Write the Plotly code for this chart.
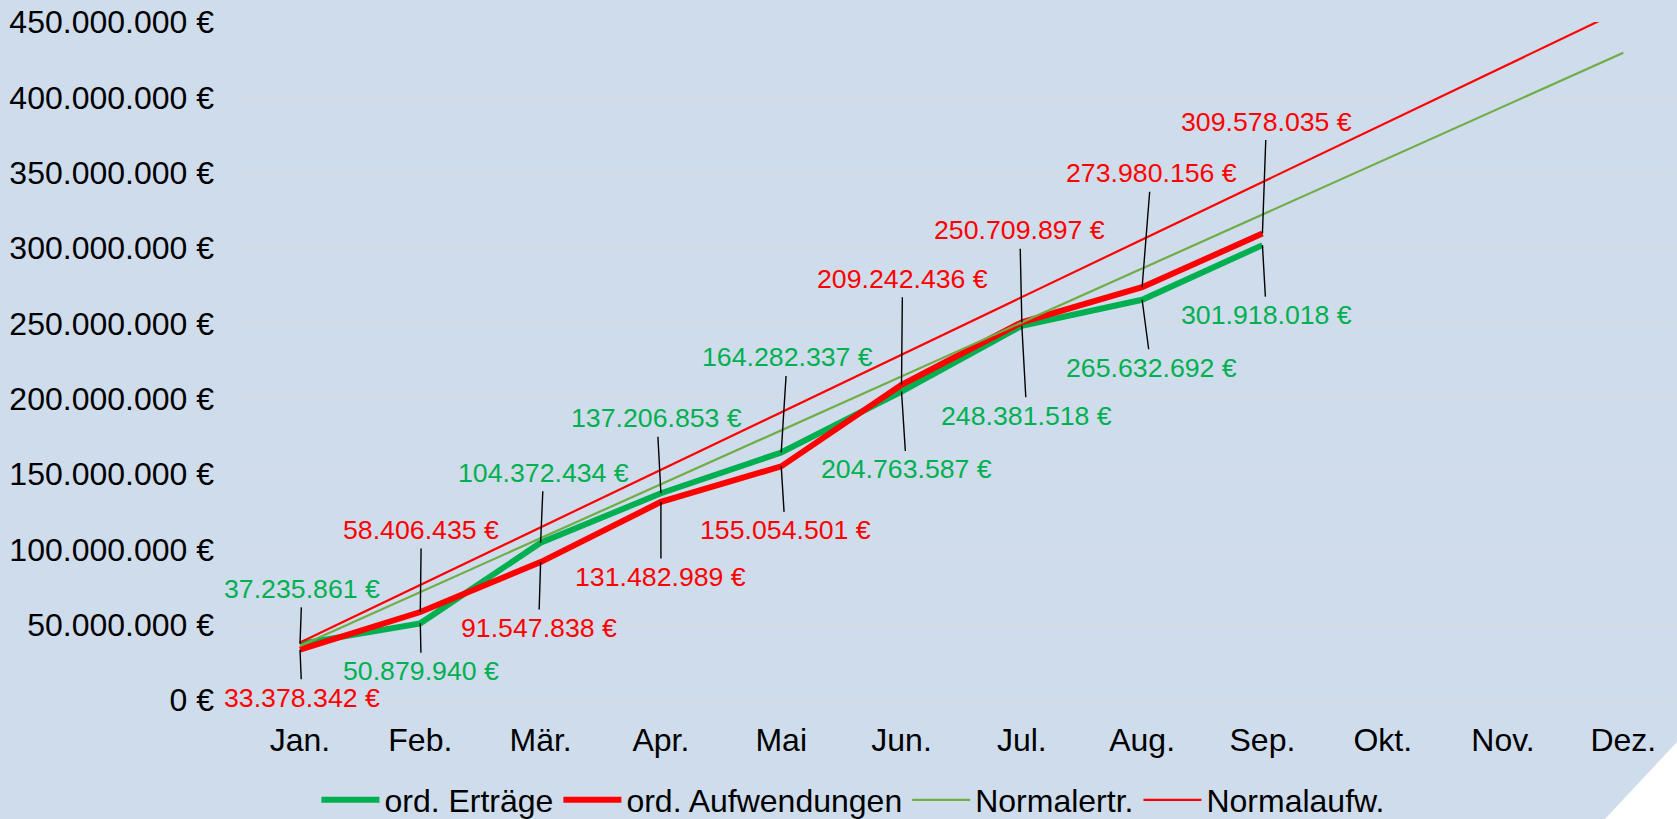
import plotly.graph_objects as go

# ---------------- data ----------------
months = ["Jan.", "Feb.", "Mär.", "Apr.", "Mai", "Jun.", "Jul.", "Aug.", "Sep.", "Okt.", "Nov.", "Dez."]

ord_ertraege = [37235861, 50879940, 104372434, 137206853, 164282337,
                204763587, 248381518, 265632692, 301918018]
ord_aufwendungen = [33378342, 58406435, 91547838, 131482989, 155054501,
                    209242436, 250709897, 273980156, 309578035]

normal_ertr = [35.8e6, 71.6e6, 107.4e6, 143.2e6, 179.0e6, 214.8e6,
               250.6e6, 286.4e6, 322.2e6, 358.0e6, 393.8e6, 429.6e6]
normal_aufw = [38.2e6, 76.4e6, 114.6e6, 152.8e6, 191.0e6, 229.2e6,
               267.4e6, 305.6e6, 343.8e6, 382.0e6, 420.2e6, 458.4e6]

y_tickvals = [0, 50e6, 100e6, 150e6, 200e6, 250e6, 300e6, 350e6, 400e6, 450e6]

# label offsets (pixels, text centre relative to point)
ertr_label_offsets = [(2, -55), (1, 48), (3, -70), (-4, -75), (6, -95),
                      (5, 78), (5, 90), (9, 68), (4, 70)]
aufw_label_offsets = [(2, 48), (1, -82), (-2, 66), (0, 75), (4, 64),
                      (1, -106), (-2, -92), (9, -114), (4, -112)]

GREEN = "#00B050"
RED = "#FF0000"
NGREEN = "#70AD47"
BG = "rgb(207,220,235)"
FONT = "Arial, Liberation Sans, sans-serif"


def fmt(v):
    return f"{int(round(v)):,}".replace(",", ".") + " €"


fig = go.Figure()
fig.add_trace(go.Scatter(x=months[:len(ord_ertraege)], y=ord_ertraege, mode="lines",
                         name="ord. Erträge", line=dict(color=GREEN, width=6)))
fig.add_trace(go.Scatter(x=months[:len(ord_aufwendungen)], y=ord_aufwendungen, mode="lines",
                         name="ord. Aufwendungen", line=dict(color=RED, width=6)))
fig.add_trace(go.Scatter(x=months, y=normal_ertr, mode="lines",
                         name="Normalertr.", line=dict(color=NGREEN, width=2.2)))
fig.add_trace(go.Scatter(x=months, y=normal_aufw, mode="lines",
                         name="Normalaufw.", line=dict(color=RED, width=2.2)))

annotations = []
for vals, offs, col in ((ord_ertraege, ertr_label_offsets, GREEN),
                        (ord_aufwendungen, aufw_label_offsets, RED)):
    for i, v in enumerate(vals):
        ax, ay = offs[i]
        annotations.append(dict(
            x=months[i], y=v, xref="x", yref="y", text=fmt(v),
            showarrow=True, arrowhead=0, arrowwidth=1.4, arrowcolor="black",
            ax=ax, ay=ay, standoff=0, borderpad=3,
            font=dict(family=FONT, size=26.7, color=col)))

fig.update_layout(
    width=1677, height=819, autosize=False,
    margin=dict(l=240, r=0, t=22, b=119, autoexpand=False),
    paper_bgcolor=BG, plot_bgcolor=BG,
    font=dict(family=FONT, size=32, color="black"),
    showlegend=True,
    legend=dict(orientation="h", xref="container", yref="container",
                x=0.5086, xanchor="center", y=0.0232, yanchor="middle",
                font=dict(family=FONT, size=32, color="black"), bgcolor="rgba(0,0,0,0)",
                itemwidth=58, tracegroupgap=0),
    annotations=annotations,
    hovermode=False,
    shapes=[dict(type="path", xref="paper", yref="paper", layer="above",
                 path="M 0.9427,-0.1918 L 1.016,-0.0257 L 1.016,-0.1918 Z",
                 fillcolor="white", line=dict(width=0))],
)
fig.update_xaxes(type="category", categoryorder="array", categoryarray=months,
                 range=[-0.4988, 11.446], showgrid=False, zeroline=False,
                 showline=False, ticks="", ticklabelstandoff=18, automargin=False,
                 tickfont=dict(family=FONT, size=32, color="black"))
fig.update_yaxes(range=[0, 450e6], tickvals=y_tickvals, ticktext=[fmt(v) for v in y_tickvals],
                 showgrid=True, gridcolor="#D9D9D9", gridwidth=1.3,
                 zeroline=True, zerolinecolor="#D9D9D9", zerolinewidth=1.3,
                 showline=False, ticks="", ticklabelstandoff=25, automargin=False,
                 tickfont=dict(family=FONT, size=32, color="black"))

fig.write_html(
    "out.html",
    config={"displayModeBar": False, "responsive": False},
    post_script="document.body.style.margin='0';document.body.style.padding='0';"
                "document.body.style.overflow='hidden';"
                "document.body.style.background='rgb(207,220,235)';",
)
